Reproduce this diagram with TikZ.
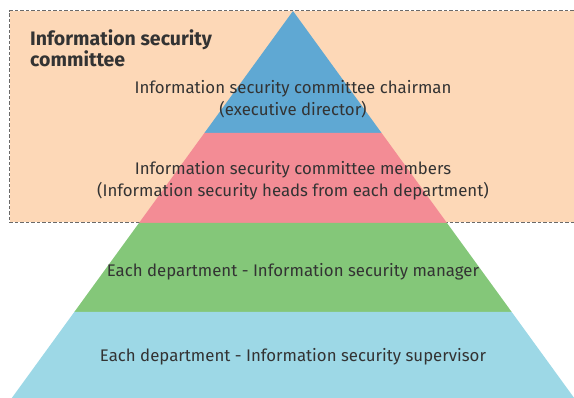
\documentclass[tikz,border=0pt]{standalone}
\usepackage{fontspec}
\setmainfont{Fira Sans}
\definecolor{peach}{HTML}{FDD8B7}
\definecolor{tblue}{HTML}{5FA8D3}
\definecolor{tpink}{HTML}{F38C95}
\definecolor{tgreen}{HTML}{84C779}
\definecolor{tlight}{HTML}{9DD8E6}
\definecolor{txt}{HTML}{333333}
\definecolor{dashc}{HTML}{6A6A6A}
\begin{document}
\begin{tikzpicture}[x=1pt,y=-1pt,
  lbl/.style={text=txt,font=\fontsize{16.8}{22}\selectfont,align=center,inner sep=0pt},
  title/.style={text=txt,font=\fontsize{19.5}{21.5}\selectfont\bfseries,align=left,inner sep=0pt,anchor=north west}]
\useasboundingbox (0,0) rectangle (574,398);
\clip (0,0) rectangle (574,398);
% committee box
\fill[peach] (9.5,11) rectangle (590,222.5);
\draw[dashc,line width=1pt,dash pattern=on 3.5pt off 2pt] (590,11) -- (9.5,11) -- (9.5,222.5) -- (590,222.5);
% pyramid layers (apex 293,11; slope 0.7264)
\fill[tblue] (293,11) -- (381.6,133) -- (204.4,133) -- cycle;
\fill[tpink] (204.4,133) -- (381.6,133) -- (447,223) -- (139,223) -- cycle;
\fill[tgreen] (139,223) -- (447,223) -- (511.7,312) -- (74.3,312) -- cycle;
\fill[tlight] (74.3,312) -- (511.7,312) -- (580.5,406.7) -- (5.5,406.7) -- cycle;
% texts
\node[title] (committee) at (30,29) {Information security\\committee};
\node[lbl] (chair) at (293,99) {Information security committee chairman\\(executive director)};
\node[lbl] (members) at (293,180.5) {Information security committee members\\(Information security heads from each department)};
\node[lbl] (manager) at (293,272) {Each department - Information security manager};
\node[lbl] (supervisor) at (293,357) {Each department - Information security supervisor};
\end{tikzpicture}
\end{document}
